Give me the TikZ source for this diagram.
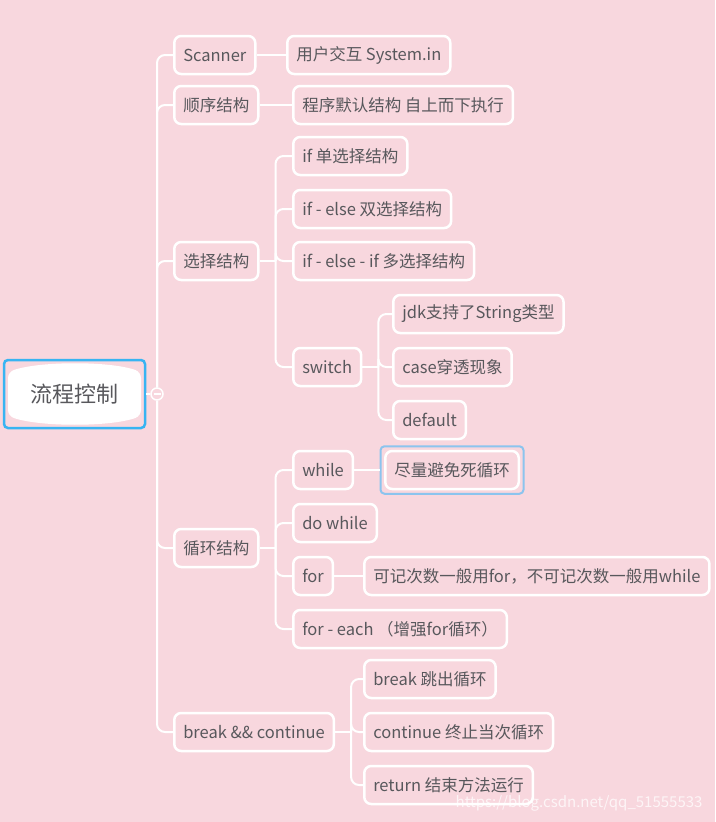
\documentclass[tikz,border=0pt]{standalone}
\usepackage{fontspec}
\setmainfont{Noto Sans CJK SC}
\usetikzlibrary{fit}
\definecolor{mapbg}{RGB}{248,215,222}
\definecolor{nodetext}{RGB}{88,88,92}
\definecolor{rootblue}{RGB}{56,180,242}
\definecolor{pickblue}{RGB}{140,196,238}

\begin{document}
\begin{tikzpicture}[x=1pt, y=-1pt,
  topic/.style={draw=white, line width=2.5pt, rounded corners=7pt, fill=mapbg,
    text=nodetext, font=\fontsize{16.5}{19}\selectfont, minimum height=38pt,
    inner xsep=9pt, anchor=west},
  link/.style={draw=white, line width=2pt, rounded corners=8pt}]

% background / page size
\fill[mapbg] (0,0) rectangle (715,822);
\useasboundingbox (0,0) rectangle (715,822);

% ===== root =====
\fill[white, rounded corners=6pt]
  (8,372) .. controls (40,361) and (110,361) .. (141,372) -- (141,416)
  .. controls (110,427) and (40,427) .. (8,416) -- cycle;
\node[draw=rootblue, line width=2.5pt, rounded corners=4pt, minimum width=141pt,
  minimum height=68pt, text=nodetext, font=\fontsize{22}{26}\selectfont]
  (root) at (74.5,394) {流程控制};
\node[circle, draw=white, line width=1.5pt, fill=mapbg, minimum size=12pt,
  inner sep=0pt] (fold) at (157,394) {};
\draw[white, line width=1.2pt] ([xshift=-3.5pt]fold.center) -- ([xshift=3.5pt]fold.center);
\draw[link] (root.east) -- (fold.west);

% ===== first level =====
\node[topic] (scanner) at (173,55)  {Scanner};
\node[topic] (order)   at (173,105) {顺序结构};
\node[topic] (select)  at (173,261) {选择结构};
\node[topic] (loop)    at (173,548) {循环结构};
\node[topic] (jump)    at (173,732) {break \&\& continue};

\draw[link] (fold.north) |- (scanner.west);
\draw[link] (fold.north) |- (order.west);
\draw[link] (fold.north) |- (select.west);
\draw[link] (fold.south) |- (loop.west);
\draw[link] (fold.south) |- (jump.west);

% ===== Scanner / 顺序结构 =====
\node[topic] (sysin)  at (286,55)  {用户交互 System.in};
\node[topic] (topdown) at (292,105) {程序默认结构 自上而下执行};
\draw[link] (scanner.east) -- (sysin.west);
\draw[link] (order.east) -- (topdown.west);

% ===== 选择结构 =====
\node[topic] (ifone)  at (292,156) {if 单选择结构};
\node[topic] (iftwo)  at (292,209) {if - else 双选择结构};
\node[topic] (ifmany) at (292,261) {if - else - if 多选择结构};
\node[topic] (switch) at (292,367) {switch};
\coordinate (selj) at ([xshift=16pt]select.east);
\draw[link] (select.east) -- (selj);
\foreach \kid in {ifone, iftwo, ifmany, switch}
  \draw[link] (selj) |- (\kid.west);

% switch
\node[topic] (jdk)     at (392,314) {jdk支持了String类型};
\node[topic] (through) at (392,367) {case穿透现象};
\node[topic] (default) at (392,420) {default};
\coordinate (swj) at ([xshift=16pt]switch.east);
\draw[link] (switch.east) -- (swj);
\foreach \kid in {jdk, through, default}
  \draw[link] (swj) |- (\kid.west);

% ===== 循环结构 =====
\node[topic] (while)   at (292,470) {while};
\node[topic] (dowhile) at (292,523) {do while};
\node[topic] (for)     at (292,576) {for};
\node[topic] (foreach) at (292,629) {for - each （增强for循环）};
\coordinate (loopj) at ([xshift=16pt]loop.east);
\draw[link] (loop.east) -- (loopj);
\foreach \kid in {while, dowhile, for, foreach}
  \draw[link] (loopj) |- (\kid.west);

\node[topic] (avoid) at (384,470) {尽量避免死循环};
\node[draw=pickblue, line width=2pt, rounded corners=4pt, inner sep=3.5pt,
  fit=(avoid)] (pick) {};
\draw[link] (while.east) -- (pick.west);

\node[topic] (count) at (363,576) {可记次数一般用for，不可记次数一般用while};
\draw[link] (for.east) -- (count.west);

% ===== break && continue =====
\node[topic] (brk)  at (363,679) {break 跳出循环};
\node[topic] (cont) at (363,732) {continue 终止当次循环};
\node[topic] (ret)  at (363,785) {return 结束方法运行};
\coordinate (jumpj) at ([xshift=16pt]jump.east);
\draw[link] (jump.east) -- (jumpj);
\foreach \kid in {brk, cont, ret}
  \draw[link] (jumpj) |- (\kid.west);

% watermark
\node[text=white, opacity=0.75, font=\fontsize{15}{18}\selectfont, anchor=east]
  (mark) at (706,803) {https://blog.csdn.net/qq\_51555533};

\end{tikzpicture}
\end{document}
